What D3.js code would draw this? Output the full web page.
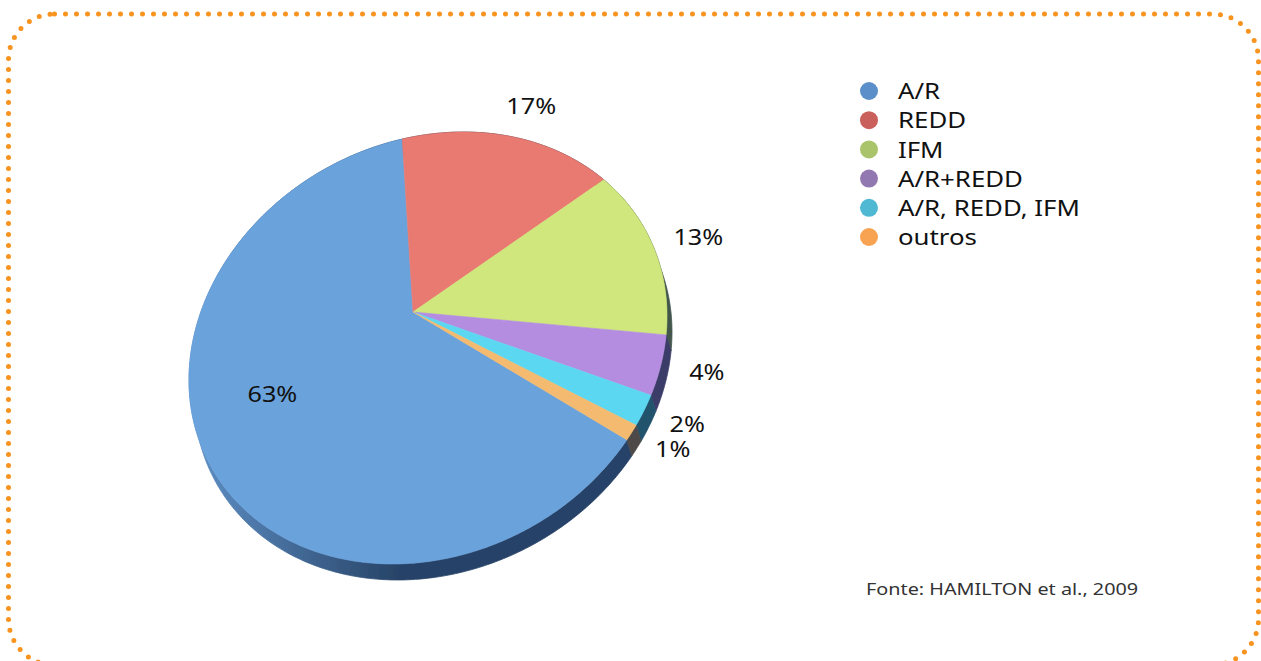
<!DOCTYPE html>
<html lang="pt">
<head>
<meta charset="utf-8">
<title>Projetos florestais por tipo</title>
<script src="https://d3js.org/d3.v7.min.js"></script>
<style>
  body { margin: 0; background: #fff; }
  svg { display: block; font-family: "Noto Sans", "Open Sans", sans-serif; }
</style>
</head>
<body>
<script>
// data
const categories = ["A/R", "REDD", "IFM", "A/R+REDD", "A/R, REDD, IFM", "outros"];
const values = [63, 17, 13, 4, 2, 1];
const labels = ["63%", "17%", "13%", "4%", "2%", "1%"];
const legendColors = ["#5b8fc9", "#c9605b", "#a9c46b", "#9278b0", "#4fb8d3", "#f8a352"];
const faceColors = ["#6ba2dc", "#e97a72", "#cfe77b", "#b48de0", "#5cd7f1", "#f4bb6f"];
const source = "Fonte: HAMILTON et al., 2009";

const width = 1261, height = 661;
const stretch = 1.2; // the original artwork is a bit wider than tall

const svg = d3.select("body").append("svg")
    .attr("width", width)
    .attr("height", height);

const defs = svg.append("defs");
defs.append("filter").attr("id", "soft")
  .append("feGaussianBlur").attr("stdDeviation", 0.6);

// dotted orange frame
svg.append("rect")
    .attr("x", 8.5).attr("y", 14)
    .attr("width", 1250).attr("height", 651)
    .attr("rx", 46)
    .attr("fill", "none")
    .attr("stroke", "#f7931e")
    .attr("stroke-width", 5)
    .attr("stroke-linecap", "round")
    .attr("stroke-dasharray", "0 11");

// tilted disc: ellipse outline, with the pie centre seen off-centre (perspective)
const C = [428, 348];                 // centre of the outline ellipse
const A = [[239, 0], [-32, 213.6]];   // unit circle -> outline ellipse
const apex = [413, 312];              // where the slices meet
const topEdge = [402, 137];           // where the first boundary hits the rim

const toScreen = ([u, v]) => [C[0] + A[0][0] * u + A[0][1] * v, C[1] + A[1][0] * u + A[1][1] * v];
const det = A[0][0] * A[1][1] - A[0][1] * A[1][0];
const fromScreen = ([x, y]) => {
  const dx = x - C[0], dy = y - C[1];
  return [(A[1][1] * dx - A[0][1] * dy) / det, (-A[1][0] * dx + A[0][0] * dy) / det];
};

// projective map of the unit disc onto itself moving 0 to p
function boost(p, sign = 1) {
  const beta = Math.hypot(p[0], p[1]) * sign;
  const e = [p[0] / Math.abs(beta), p[1] / Math.abs(beta)];
  const g = Math.sqrt(1 - beta * beta);
  return ([x, y]) => {
    const par = x * e[0] + y * e[1];
    const perp = [x - par * e[0], y - par * e[1]];
    const w = 1 + beta * par;
    return [((par + beta) * e[0] + g * perp[0]) / w, ((par + beta) * e[1] + g * perp[1]) / w];
  };
}

const p = fromScreen(apex);
const fwd = boost(p, 1), back = boost(p, -1);
let t = fromScreen(topEdge);
const tn = Math.hypot(t[0], t[1]);
t = back([t[0] / tn, t[1] / tn]);
const phi = Math.atan2(t[0], -t[1]); // rotation so that angle 0 lands on topEdge

const onRim = (a, r = 1) => [r * Math.sin(a + phi), -r * Math.cos(a + phi)];
const proj = q => toScreen(fwd(q));

const total = d3.sum(values);
const start = 2 * Math.PI * (1 - values[0] / total);
const pie = d3.pie().sort(null).value(d => d)
    .startAngle(start).endAngle(start + 2 * Math.PI);
const arcs = pie(values);

function rimPoints(d) {
  const n = Math.max(2, Math.ceil((d.endAngle - d.startAngle) / 0.01));
  return d3.range(n + 1).map(i => proj(onRim(d.startAngle + (d.endAngle - d.startAngle) * i / n)));
}

const depth = [5, 16];
const line = d3.line();
const shade = (c, k) => d3.interpolateRgb(c, "#0c1e3a")(k);

// side walls get lighter towards the left, as in the lit original
faceColors.forEach((c, i) => {
  const g = defs.append("linearGradient").attr("id", "side" + i)
      .attr("gradientUnits", "userSpaceOnUse")
      .attr("x1", 195).attr("y1", 0).attr("x2", 400).attr("y2", 0);
  g.append("stop").attr("offset", 0).attr("stop-color", shade(c, 0.15));
  g.append("stop").attr("offset", 1).attr("stop-color", shade(c, 0.72));
});

const pieG = svg.append("g").attr("filter", "url(#soft)");

// side wall of the disc
pieG.selectAll("path.side")
  .data(arcs)
  .join("path")
    .attr("class", "side")
    .attr("d", d => {
      const top = rimPoints(d);
      const bottom = top.map(q => [q[0] + depth[0], q[1] + depth[1]]).reverse();
      return line(top.concat(bottom)) + "Z";
    })
    .attr("fill", (d, i) => `url(#side${i})`)
    .attr("stroke", (d, i) => `url(#side${i})`)
    .attr("stroke-width", 0.8);

// top faces
pieG.selectAll("path.face")
  .data(arcs)
  .join("path")
    .attr("class", "face")
    .attr("d", d => line([proj([0, 0])].concat(rimPoints(d))) + "Z")
    .attr("fill", (d, i) => faceColors[i])
    .attr("stroke", (d, i) => faceColors[i])
    .attr("stroke-width", 0.6);

// data labels
const labelPos = arcs.map(d => {
  const mid = (d.startAngle + d.endAngle) / 2;
  return proj(onRim(mid, d.value / total > 0.5 ? 0.66 : 1.0));
});
svg.selectAll("text.lbl")
  .data(arcs)
  .join("text")
    .attr("class", "lbl")
    .attr("transform", (d, i) => {
      let [x, y] = labelPos[i];
      if (d.value / total <= 0.5) {
        // push outside the rim
        const dx = x - apex[0], dy = y - apex[1], len = Math.hypot(dx, dy);
        x += dx / len * 47; y += dy / len * 34;
      }
      return `translate(${x},${y}) scale(${stretch},1)`;
    })
    .attr("text-anchor", "middle")
    .attr("dominant-baseline", "central")
    .attr("font-size", 21)
    .attr("fill", "#111")
    .text((d, i) => labels[i]);

// legend
const legend = svg.append("g").attr("transform", "translate(869,91)");
const rows = legend.selectAll("g")
  .data(categories)
  .join("g")
    .attr("transform", (d, i) => `translate(0,${i * 29.2})`);
rows.append("circle")
    .attr("r", 9)
    .attr("fill", (d, i) => legendColors[i]);
rows.append("text")
    .attr("transform", `translate(29,0) scale(${stretch},1)`)
    .attr("dominant-baseline", "central")
    .attr("font-size", 21.5)
    .attr("fill", "#111")
    .text(d => d);

svg.append("text")
    .attr("transform", `translate(866,589) scale(${stretch},1)`)
    .attr("dominant-baseline", "central")
    .attr("font-size", 16.5)
    .attr("fill", "#333")
    .text(source);
</script>
</body>
</html>
